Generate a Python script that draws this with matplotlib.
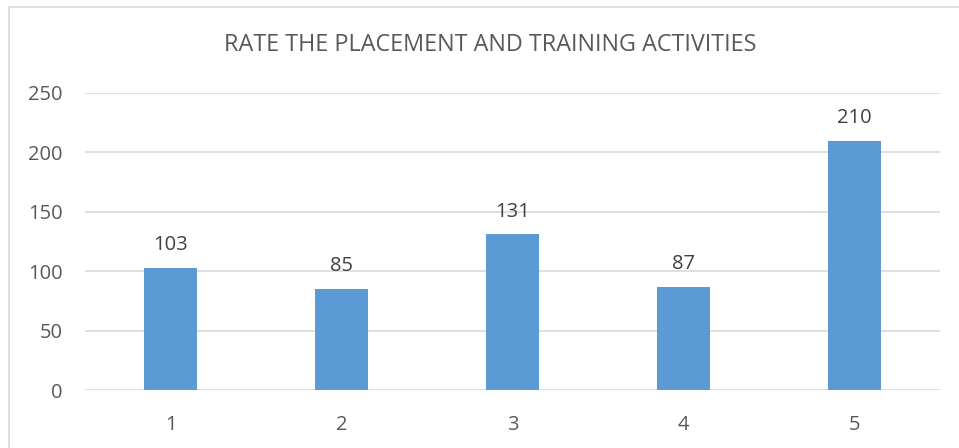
import matplotlib.pyplot as plt
from matplotlib.patches import Rectangle

categories = ['1', '2', '3', '4', '5']
values = [103, 85, 131, 87, 210]
title = 'RATE THE PLACEMENT AND TRAINING ACTIVITIES'

plt.rcParams['font.family'] = ['Open Sans', 'DejaVu Sans']

fig = plt.figure(figsize=(9.59, 4.48), dpi=100)
ax = fig.add_axes([85 / 959, 1 - 390 / 448, (940 - 85) / 959, (390 - 93) / 448])

x = range(1, len(categories) + 1)
bars = ax.bar(x, values, width=0.31, color='#5b9bd5', zorder=3)
for b, v in zip(bars, values):
    ax.text(b.get_x() + b.get_width() / 2, v + 19, str(v), ha='center', va='center',
            fontsize=14.5, color='#404040')

ax.set_xlim(0.5, 5.5)
ax.set_ylim(0, 250)
ax.set_yticks(range(0, 251, 50))
ax.set_xticks(list(x))
ax.set_xticklabels(categories)
ax.grid(axis='y', color='#d9d9d9', linewidth=1.2, zorder=0)
for s in ax.spines.values():
    s.set_visible(False)
ax.tick_params(length=0, labelsize=14.5, colors='#595959')
ax.tick_params(axis='y', pad=16)
ax.tick_params(axis='x', pad=18)

fig.text(490 / 959, 1 - 45 / 448, title, ha='center', va='center', fontsize=16.8, color='#595959')

# chart border (only left and top visible in the crop)
fig.patches.append(Rectangle((9 / 959, -0.1), 1.2, 1.1 - 7 / 448, transform=fig.transFigure,
                             fill=False, edgecolor='#d9d9d9', linewidth=1.2))

fig.savefig('out.png', dpi=100)
